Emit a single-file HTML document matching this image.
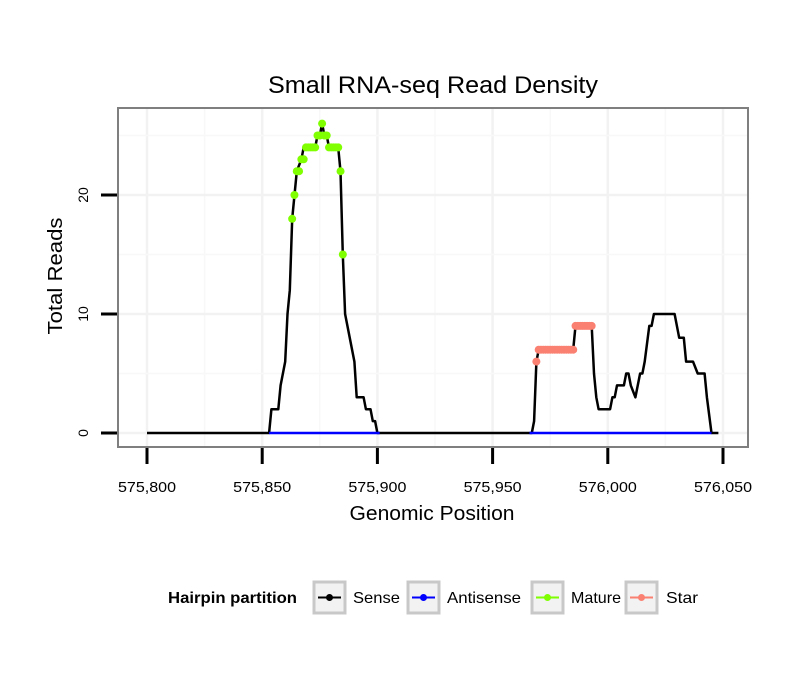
<!DOCTYPE html>
<html><head><meta charset="utf-8"><style>
html,body{margin:0;padding:0;background:#fff;}
svg{display:block;font-family:"Liberation Sans",sans-serif;}
</style></head><body>
<svg id="chart" width="810" height="690" viewBox="0 0 810 690" xmlns="http://www.w3.org/2000/svg">
<rect x="0" y="0" width="810" height="690" fill="#fff"/>
<text x="433" y="93" text-anchor="middle" font-size="24" textLength="330" lengthAdjust="spacingAndGlyphs">Small RNA-seq Read Density</text>
<g id="grid"></g>
<g id="series"></g>
<rect x="118" y="108" width="630" height="339" fill="none" stroke="#7f7f7f" stroke-width="2"/>
<g id="axes"></g>
<text x="432" y="520" text-anchor="middle" font-size="20" textLength="165" lengthAdjust="spacingAndGlyphs">Genomic Position</text>
<text transform="translate(62,276) rotate(-90)" text-anchor="middle" font-size="20" textLength="117" lengthAdjust="spacingAndGlyphs">Total Reads</text>
<g font-size="16">
<text x="168" y="603" font-weight="bold" font-size="16" textLength="129" lengthAdjust="spacingAndGlyphs">Hairpin partition</text>
<g>
<rect x="314" y="582" width="31" height="31" fill="#f2f2f2" stroke="#c8c8c8" stroke-width="3"/>
<line x1="318" y1="597.5" x2="341" y2="597.5" stroke="#000" stroke-width="2"/><circle cx="329.5" cy="597.5" r="3.5" fill="#000"/>
<text x="353" y="603" textLength="47" lengthAdjust="spacingAndGlyphs">Sense</text></g>
<g>
<rect x="408" y="582" width="31" height="31" fill="#f2f2f2" stroke="#c8c8c8" stroke-width="3"/>
<line x1="412" y1="597.5" x2="435" y2="597.5" stroke="#0000ff" stroke-width="2"/><circle cx="423.5" cy="597.5" r="3.5" fill="#0000ff"/>
<text x="447" y="603" textLength="74" lengthAdjust="spacingAndGlyphs">Antisense</text></g>
<g>
<rect x="532" y="582" width="31" height="31" fill="#f2f2f2" stroke="#c8c8c8" stroke-width="3"/>
<line x1="536" y1="597.5" x2="559" y2="597.5" stroke="#7fff00" stroke-width="2"/><circle cx="547.5" cy="597.5" r="3.5" fill="#7fff00"/>
<text x="571" y="603" textLength="50" lengthAdjust="spacingAndGlyphs">Mature</text></g>
<g>
<rect x="626" y="582" width="31" height="31" fill="#f2f2f2" stroke="#c8c8c8" stroke-width="3"/>
<line x1="630" y1="597.5" x2="653" y2="597.5" stroke="#fa8072" stroke-width="2"/><circle cx="641.5" cy="597.5" r="3.5" fill="#fa8072"/>
<text x="666" y="603" textLength="32" lengthAdjust="spacingAndGlyphs">Star</text></g>
</g>
</svg>
<script>
const xTicks = [575800, 575850, 575900, 575950, 576000, 576050];
const xTickLabels = ["575,800", "575,850", "575,900", "575,950", "576,000", "576,050"];
const yTicks = [0, 10, 20];
const yTickLabels = ["0", "10", "20"];
const sensePos = [575800,575853,575854,575857,575858,575860,575861,575862,575863,575864,575865,575867,575868,575869,575873,575874,575875,575876,575877,575878,575879,575883,575884,575885,575886,575890,575891,575894,575895,575897,575898,575899,575900,575901,575967,575968,575969,575970,575985,575986,575993,575994,575995,575996,575997,576001,576002,576003,576004,576007,576008,576009,576010,576012,576014,576015,576016,576018,576019,576020,576021,576029,576031,576033,576034,576036,576037,576039,576040,576042,576043,576045,576048];
const senseVal = [0,0,2,2,4,6,10,12,18,20,22,23,24,24,24,25,25,26,25,25,24,24,22,15,10,6,3,3,2,2,1,1,0,0,0,1,6,7,7,9,9,5,3,2,2,2,3,3,4,4,5,5,4,3,5,5,6,9,9,10,10,10,8,8,6,6,6,5,5,5,3,0,0];
const antisensePos = [575853, 575901, 575966, 576045];
const antisenseVal = [0, 0, 0, 0];
const maturePos = [575863,575864,575865,575866,575867,575868,575869,575870,575871,575872,575873,575874,575875,575876,575877,575878,575879,575880,575881,575882,575883,575884,575885];
const matureVal = [18,20,22,22,23,23,24,24,24,24,24,25,25,26,25,25,24,24,24,24,24,22,15];
const starPos = [575969,575970,575971,575972,575973,575974,575975,575976,575977,575978,575979,575980,575981,575982,575983,575984,575985,575986,575987,575988,575989,575990,575991,575992,575993];
const starVal = [6,7,7,7,7,7,7,7,7,7,7,7,7,7,7,7,7,9,9,9,9,9,9,9,9];

const NS = "http://www.w3.org/2000/svg";
const X0 = 575800, PX0 = 147, KX = (723 - 147) / 250;
const PY0 = 433, KY = (433 - 195) / 20;
function sx(v){ return PX0 + (v - X0) * KX; }
function sy(v){ return PY0 - v * KY; }
function mk(tag, attrs, parent){ const e = document.createElementNS(NS, tag); for (const k in attrs) e.setAttribute(k, attrs[k]); parent.appendChild(e); return e; }

const grid = document.getElementById('grid');
mk('rect', {x:118, y:108, width:630, height:339, fill:'#fff'}, grid);
for (let i = 0; i < xTicks.length; i++) {
  const gx = sx(xTicks[i]);
  const g = mk('line', {x1:gx, x2:gx, y1:108, y2:447, stroke:'#f2f2f2', 'stroke-width':2.5}, grid);
  
  
  if (i < xTicks.length - 1) {
    const mx = sx((xTicks[i] + xTicks[i+1]) / 2);
    const m = mk('line', {x1:mx, x2:mx, y1:108, y2:447, stroke:'#f8f8f8', 'stroke-width':1.5}, grid);
    
    
  }
}
for (let v = 0; v <= 25; v += 5) {
  const gy = sy(v);
  const major = v % 10 === 0;
  const g = mk('line', {x1:118, x2:748, y1:gy, y2:gy, stroke: major ? '#f2f2f2' : '#f8f8f8', 'stroke-width': major ? 2.5 : 1.5}, grid);
  
  
}

const series = document.getElementById('series');
function line(pos, val, color, name){
  const pts = pos.map((p, i) => sx(p).toFixed(1) + ',' + sy(val[i]).toFixed(1)).join(' ');
  const l = mk('polyline', {points: pts, fill:'none', stroke: color, 'stroke-width': 2.5, 'stroke-linejoin':'round'}, series);
  
  
}
function dots(pos, val, color, name){
  pos.forEach((p, i) => {
    const c = mk('circle', {cx: sx(p), cy: sy(val[i]), r: 4, fill: color}, series);
    
    
  });
}
line(sensePos, senseVal, '#000', 'sense-line');
line(antisensePos.slice(0,2), antisenseVal.slice(0,2), '#0000ff', 'antisense-line');
line(antisensePos.slice(2), antisenseVal.slice(2), '#0000ff', 'antisense-line');
dots(maturePos, matureVal, '#7fff00', 'mature-point');
dots(starPos, starVal, '#fa8072', 'star-point');

const axes = document.getElementById('axes');
xTicks.forEach((t, i) => {
  const x = sx(t);
  const tk = mk('line', {x1:x, x2:x, y1:448, y2:464, stroke:'#000', 'stroke-width':3}, axes);
  
  
  const lb = mk('text', {x:x, y:492, 'text-anchor':'middle', 'font-size':15, textLength:58, lengthAdjust:'spacingAndGlyphs'}, axes);
  lb.textContent = xTickLabels[i];
  
  
});
yTicks.forEach((t, i) => {
  const y = sy(t);
  const tk = mk('line', {x1:101, x2:117, y1:y, y2:y, stroke:'#000', 'stroke-width':3}, axes);
  
  
  const lb = mk('text', {transform:'translate(88,' + y + ') rotate(-90)', 'text-anchor':'middle', 'font-size':14}, axes);
  lb.textContent = yTickLabels[i];
  
  
});
</script>
</body></html>
